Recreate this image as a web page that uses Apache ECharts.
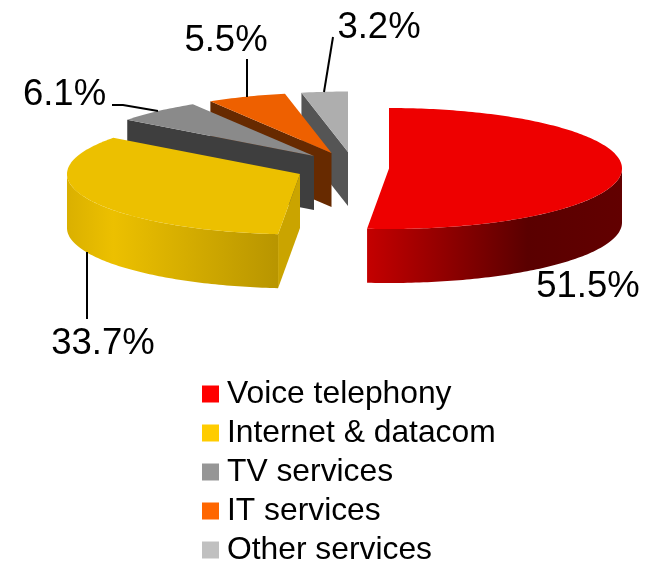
<!DOCTYPE html>
<html>
<head>
<meta charset="utf-8">
<style>
  html, body { margin: 0; padding: 0; background: #fff; }
  #chart { width: 658px; height: 562px; }
</style>
<script src="https://cdn.jsdelivr.net/npm/echarts@6/dist/echarts.min.js"></script>
</head>
<body>
<div id="chart"></div>
<script>
const categories = ['Voice telephony', 'Internet & datacom', 'TV services', 'IT services', 'Other services']
const shares = [51.5, 33.7, 6.1, 5.5, 3.2]

// pie geometry, ECharts has no 3d pie so the slices are projected by hand
const pie = { cx: 350, cy: 166, rx: 233, ry: 60.5, depth: 54 }
const explode = [[39, 2.5], [-50, 8], [-36, -10], [-18.5, -13], [-2, -14]]
const order = [5, 4, 3, 2, 1]

const legendColors = ['#ff0000', '#ffcc00', '#969696', '#ff6600', '#c0c0c0']
const topColors = ['#ee0000', '#ecc000', '#8a8a8a', '#ee6000', '#aeaeae']
const faceColors = ['#a00000', '#caa400', '#3e3e3e', '#672a00', '#555555']
const wallStops = [
  [[0, '#c40000'], [0.63, '#5a0000'], [1, '#620000']],
  [[0, '#dab000'], [0.22, '#ecc000'], [1, '#b89500']],
  null, null, null
]

const labelPos = [[588, 287], [103, 344], [64.5, 95], [226, 41], [379, 28]]
const leaders = [
  null,
  [[87, 252], [87, 319]],
  [[112, 105], [123, 105], [158, 111]],
  [[247, 59], [247, 97]],
  [[333, 37], [324, 92]]
]

const starts = []
shares.reduce((sum, v, i) => {
  starts[i] = sum
  return sum + v
}, 0)

const rim = (c, deg, dy) => {
  const a = deg * Math.PI / 180
  return [c[0] + pie.rx * Math.sin(a), c[1] - pie.ry * Math.cos(a) + (dy || 0)]
}

const arc = (c, from, to, dy) => {
  const pts = []
  const n = Math.max(2, Math.ceil(to - from))
  for (let i = 0; i <= n; i++) pts.push(rim(c, from + (to - from) * i / n, dy))
  return pts
}

const makeItem = (idx) => (params, api) => {
  const from = starts[idx] * 3.6
  const to = from + api.value(0) * 3.6
  const c = [pie.cx + explode[idx][0], pie.cy + explode[idx][1]]
  const children = []

  // cut face on the start side
  children.push({
    type: 'polygon',
    shape: { points: [c, rim(c, from), rim(c, from, pie.depth), [c[0], c[1] + pie.depth]] },
    style: { fill: faceColors[idx] }
  })

  // outer wall, only the front half of the ellipse shows
  const wallFrom = Math.max(from, 90)
  const wallTo = Math.min(to, 270)
  if (wallStops[idx] && wallTo > wallFrom) {
    const pts = arc(c, wallFrom, wallTo).concat(arc(c, wallFrom, wallTo, pie.depth).reverse())
    children.push({
      type: 'polygon',
      shape: { points: pts },
      style: {
        fill: new echarts.graphic.LinearGradient(0, 0, 1, 0,
          wallStops[idx].map(s => ({ offset: s[0], color: s[1] })))
      }
    })
  }

  // top surface
  children.push({
    type: 'polygon',
    shape: { points: [c].concat(arc(c, from, to)) },
    style: { fill: topColors[idx] }
  })

  if (leaders[idx]) {
    children.push({
      type: 'polyline',
      shape: { points: leaders[idx] },
      style: { stroke: '#000', lineWidth: 2, fill: null }
    })
  }

  children.push({
    type: 'text',
    x: labelPos[idx][0],
    y: labelPos[idx][1],
    style: {
      text: api.value(0).toFixed(1) + '%',
      fill: '#000',
      font: '36.5px "Liberation Sans", Arial, sans-serif',
      align: 'center',
      verticalAlign: 'middle'
    }
  })

  return { type: 'group', children }
}

const myChart = echarts.init(document.getElementById('chart'))
myChart.setOption({
  animation: false,
  backgroundColor: '#fff',
  legend: {
    orient: 'vertical',
    left: 197,
    top: 373,
    height: 200,
    icon: 'rect',
    itemWidth: 17,
    itemHeight: 17,
    itemGap: 7,
    selectedMode: false,
    data: categories,
    textStyle: {
      fontFamily: '"Liberation Sans", Arial, sans-serif',
      fontSize: 31.8,
      lineHeight: 32,
      color: '#000',
      padding: [0, 0, 0, 3]
    }
  },
  series: categories.map((name, i) => ({
    type: 'custom',
    name,
    coordinateSystem: 'none',
    z: order[i],
    itemStyle: { color: legendColors[i] },
    data: [[shares[i]]],
    renderItem: makeItem(i)
  }))
})
</script>
</body>
</html>
